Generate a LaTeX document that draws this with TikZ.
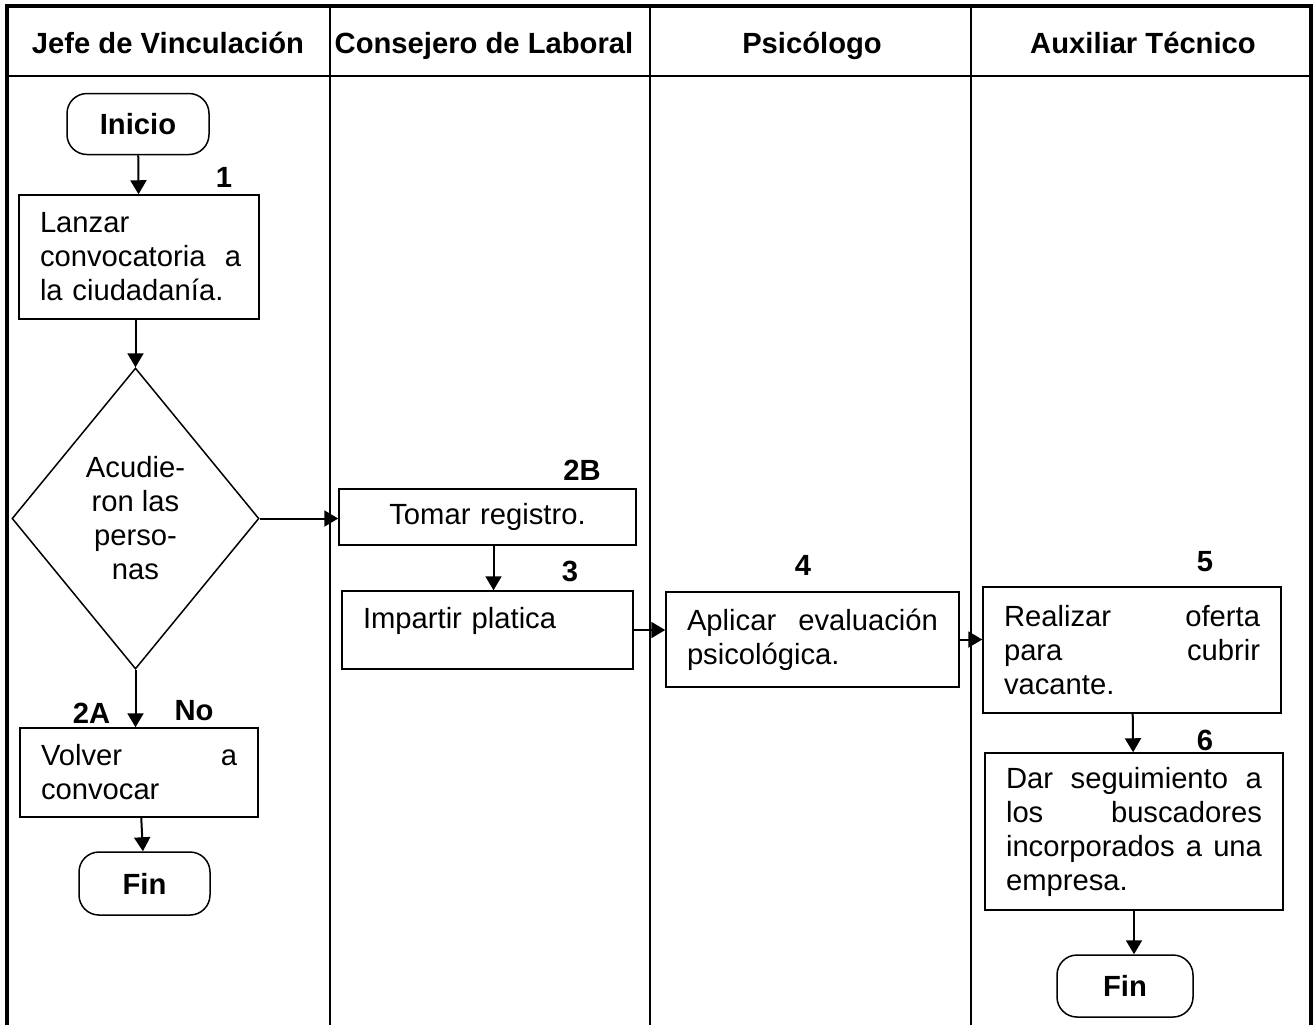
\documentclass[tikz,border=0pt]{standalone}
\usepackage{fontspec}
\setmainfont{Liberation Sans}
\usepackage{xcolor}
\usepackage{tikz}
\usetikzlibrary{arrows.meta,shapes.geometric}
\newcommand{\renglon}[1]{\leavevmode\hbox to\hsize{#1}}

\begin{document}
\begin{tikzpicture}[x=0.5pt,y=-0.5pt,
  font=\fontsize{14.6}{17}\selectfont,
  paso/.style={rectangle, draw, line width=0.75pt, inner xsep=10.5pt, inner ysep=0pt, align=left},
  terminal/.style={rectangle, rounded corners=10pt, draw, line width=0.75pt, font=\fontsize{14.6}{17}\selectfont\bfseries},
  etiqueta/.style={inner sep=0pt, font=\fontsize{14.6}{17}\selectfont\bfseries},
  flecha/.style={-{Triangle[length=7pt,width=8pt]}, line width=1pt},
  carril/.style={line width=1pt},
  marco/.style={line width=2pt}]
\useasboundingbox (0,0) rectangle (1315,1025);
% carriles
\draw[marco] (7,1025) -- (7,5.5) -- (1311,5.5) -- (1311,1025);
\draw[line width=1.4pt] (7,76) -- (1311,76);
\foreach \x in {330,650,971}
  \draw[carril] (\x,5.5) -- (\x,1025);
\node at (168,53) [etiqueta, anchor=base] (jefe) {Jefe de Vinculación};
\node at (484,53) [etiqueta, anchor=base] (consejero) {Consejero de Laboral};
\node at (812,53) [etiqueta, anchor=base] (psicologo) {Psicólogo};
\node at (1143,53) [etiqueta, anchor=base] (auxiliar) {Auxiliar Técnico};
% jefe de vinculacion
\node at (138,124) [terminal, minimum width=71pt, minimum height=30.5pt] (inicio) {Inicio};
\node at (139,257) [paso, text width=99pt, minimum height=62pt] (lanzar) {Lanzar\\convocatoria~~a\\la ciudadanía.};
\node at (135.5,518.5) [diamond, draw, line width=0.75pt, inner sep=0pt, minimum width=123.5pt, minimum height=150.5pt, align=center] (acudieron) {Acudie-\\ron las\\perso-\\nas};
\node at (139,772.5) [paso, text width=98pt, minimum height=44.5pt] (volver) {\renglon{Volver\hfill a}\\convocar};
\node at (144.5,883.5) [terminal, minimum width=65.5pt, minimum height=31.5pt] (fin1) {Fin};
% consejero
\node at (487.5,517) [paso, text width=127.5pt, minimum height=28pt, align=center] (tomar) {Tomar registro.};
\node at (487.5,630) [paso, text width=124.5pt, minimum height=39pt] (impartir) {Impartir platica\\[-5pt]\mbox{}};
% psicologo
\node at (812.5,639.5) [paso, text width=125.5pt, minimum height=47.5pt] (aplicar) {\renglon{Aplicar\hfill evaluación}\\psicológica.};
% auxiliar
\node at (1132,650) [paso, text width=128pt, minimum height=63pt] (realizar) {\renglon{Realizar\hfill oferta}\\\renglon{para\hfill cubrir}\\vacante.};
\node at (1134,831.5) [paso, text width=128pt, minimum height=78.5pt] (dar) {\renglon{Dar\hfill seguimiento\hfill a}\\\renglon{los\hfill buscadores}\\\renglon{incorporados\hfill a\hfill una}\\empresa.};
\node at (1125,986) [terminal, minimum width=68pt, minimum height=31pt] (fin2) {Fin};
% numeros
\node at (224,177.5) [etiqueta] (num1) {1};
\node at (91.5,713) [etiqueta] (num2a) {2A};
\node at (194,710.5) [etiqueta] (no) {No};
\node at (582,470) [etiqueta] (num2b) {2B};
\node at (570,571) [etiqueta] (num3) {3};
\node at (803,565) [etiqueta] (num4) {4};
\node at (1205,562) [etiqueta] (num5) {5};
\node at (1205,740) [etiqueta] (num6) {6};
% flechas
\draw (inicio)[flecha] -- (lanzar);
\draw (lanzar.south -| acudieron.north)[flecha] -- (acudieron.north);
\draw (acudieron.east)[flecha] -- (acudieron.east -| tomar.west);
\draw (acudieron.south)[flecha] -- (acudieron.south |- volver.north);
\draw (volver)[flecha] -- (fin1);
\draw ([xshift=3pt]tomar.south)[flecha] -- ([xshift=3pt]impartir.north);
\draw (impartir.east)[flecha] -- (impartir.east -| aplicar.west);
\draw (aplicar.east)[flecha] -- (aplicar.east -| realizar.west);
\draw (realizar)[flecha] -- (dar);
\draw (dar.south)[flecha] -- (dar.south |- fin2.north);
\end{tikzpicture}
\end{document}
